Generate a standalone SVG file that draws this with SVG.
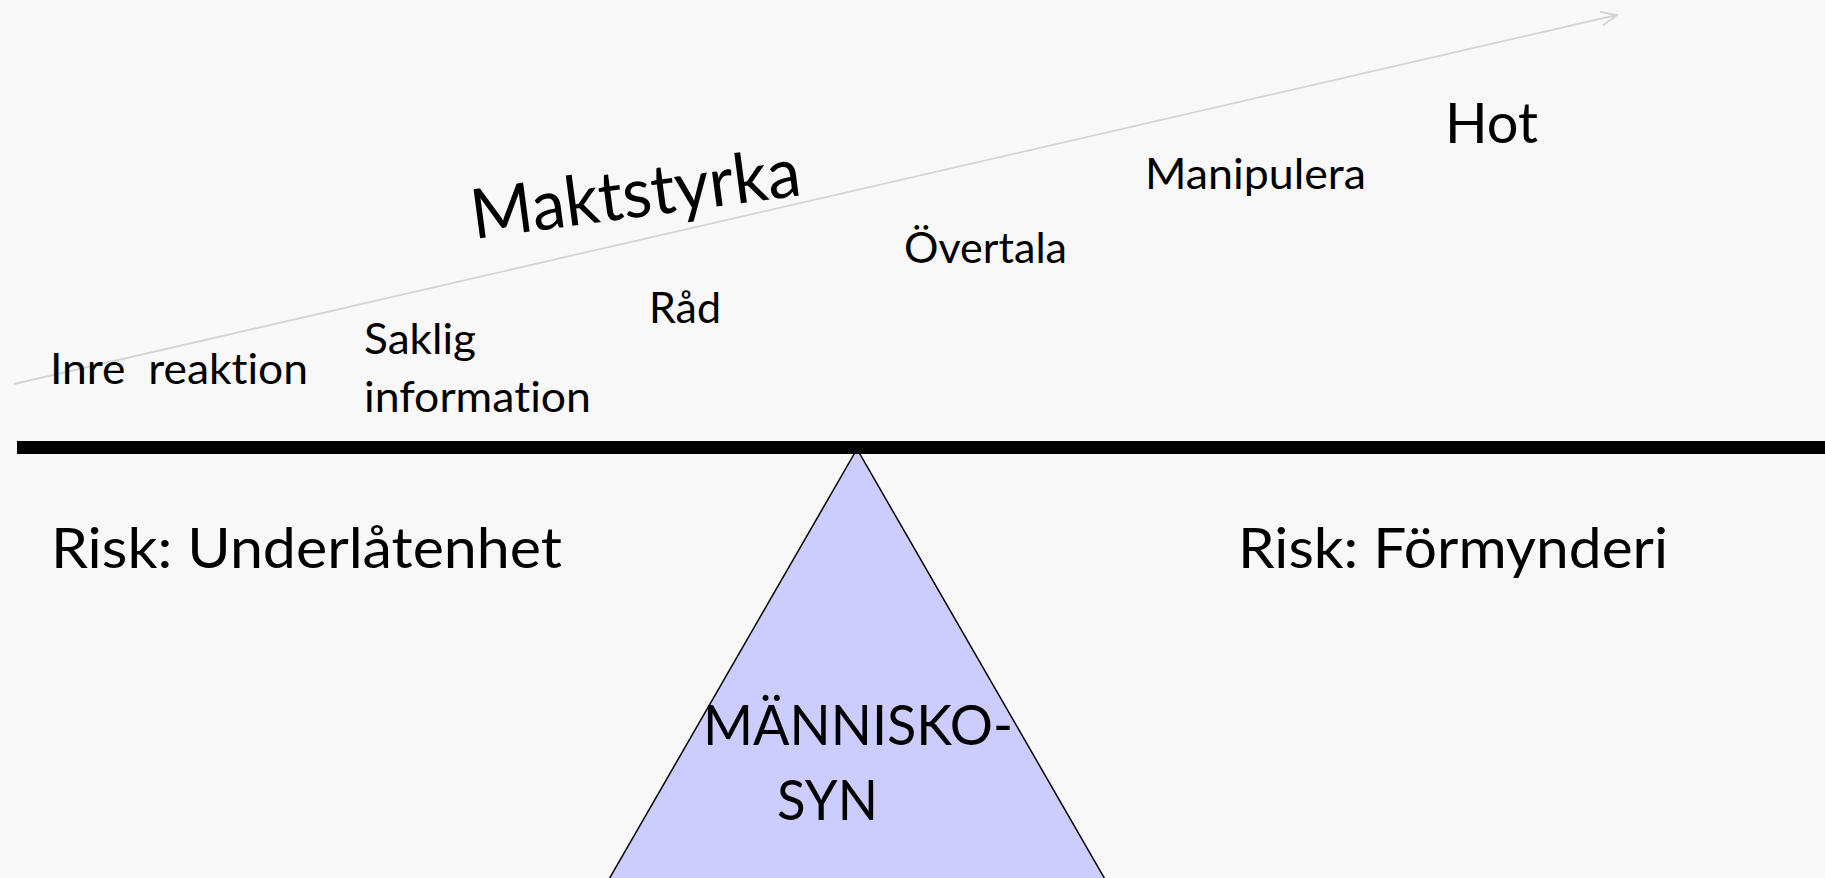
<svg xmlns="http://www.w3.org/2000/svg" width="1825" height="878" viewBox="0 0 1825 878">
  <style>
    .t { font-family: Lato, "Open Sans", "Liberation Sans", sans-serif; fill: #000; font-variant-ligatures: none; font-feature-settings: "liga" 0, "clig" 0; }
    .s { font-size: 42px; }
    .b { font-size: 57px; }
  </style>
  <defs>
    <marker id="open" markerWidth="20" markerHeight="20" refX="18" refY="10" orient="auto" markerUnits="userSpaceOnUse">
      <polyline points="2,3 18,10 2,17" fill="none" stroke="#d4d4d4" stroke-width="1.8"/>
    </marker>
  </defs>
  <rect x="0" y="0" width="1825" height="878" fill="#f8f8f8"/>
  <g id="connectors">
    <line x1="14" y1="384" x2="1617" y2="15" stroke="#d4d4d4" stroke-width="1.8" marker-end="url(#open)"/>
  </g>
  <g id="fulcrum">
    <polygon points="857,449 597,900 1117,900" fill="#ccccff" stroke="#000" stroke-width="1.5"/>
    <text class="t b" x="703" y="745" textLength="310" lengthAdjust="spacingAndGlyphs">MÄNNISKO-</text>
    <text class="t b" x="777" y="820" textLength="101" lengthAdjust="spacingAndGlyphs">SYN</text>
  </g>
  <g id="beam">
    <rect x="17" y="441" width="1820" height="13" fill="#000"/>
  </g>
  <g id="maktstyrka">
    <text class="t" font-size="69" x="474" y="239" transform="rotate(-7.6 474 239)" textLength="332" lengthAdjust="spacingAndGlyphs">Maktstyrka</text>
  </g>
  <g id="inre-reaktion">
    <text class="t s" x="50" y="384" textLength="258" lengthAdjust="spacingAndGlyphs" xml:space="preserve">Inre  reaktion</text>
  </g>
  <g id="saklig-information">
    <text class="t s" x="364" y="354" textLength="112" lengthAdjust="spacingAndGlyphs">Saklig</text>
    <text class="t s" x="364" y="412" textLength="227" lengthAdjust="spacingAndGlyphs">information</text>
  </g>
  <g id="rad">
    <text class="t s" x="649" y="323" textLength="72" lengthAdjust="spacingAndGlyphs">Råd</text>
  </g>
  <g id="overtala">
    <text class="t s" x="904" y="263" textLength="163" lengthAdjust="spacingAndGlyphs">Övertala</text>
  </g>
  <g id="manipulera">
    <text class="t s" x="1145" y="189" textLength="221" lengthAdjust="spacingAndGlyphs">Manipulera</text>
  </g>
  <g id="hot">
    <text class="t b" x="1445" y="143" textLength="93" lengthAdjust="spacingAndGlyphs">Hot</text>
  </g>
  <g id="risk-underlatenhet">
    <text class="t b" x="51" y="568" textLength="511" lengthAdjust="spacingAndGlyphs">Risk: Underlåtenhet</text>
  </g>
  <g id="risk-formynderi">
    <text class="t b" x="1238" y="568" textLength="430" lengthAdjust="spacingAndGlyphs">Risk: Förmynderi</text>
  </g>
</svg>
